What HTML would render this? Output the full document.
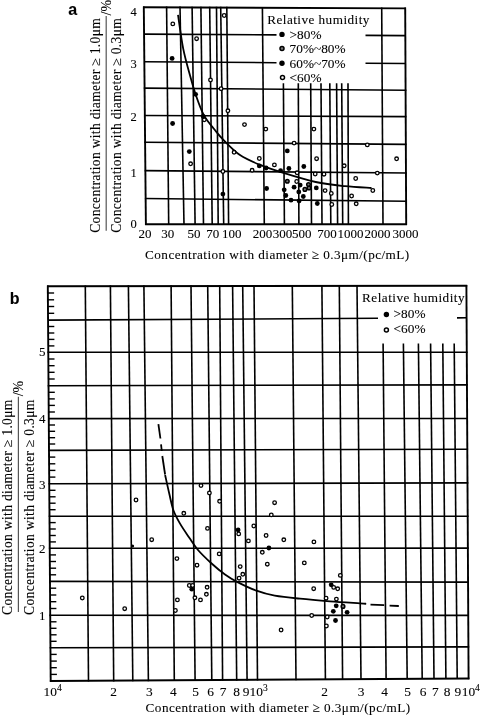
<!DOCTYPE html>
<html><head><meta charset="utf-8"><style>
html,body{margin:0;padding:0;background:#fff;}
body{width:482px;height:715px;overflow:hidden;}
svg{display:block;filter:grayscale(1) blur(0.3px);}
text{font-family:"Liberation Serif", serif;fill:#000;stroke:#000;stroke-width:0.1px;}
</style></head><body>
<svg width="482" height="715" viewBox="0 0 482 715">
<g stroke="#000" stroke-linecap="butt">
<line x1="143.0" y1="7.3" x2="406.0" y2="8.4" stroke-width="1.9" />
<line x1="144.1" y1="34.1" x2="276.5" y2="34.9" stroke-width="1.6" />
<line x1="365.5" y1="35.4" x2="405.3" y2="35.6" stroke-width="1.6" />
<line x1="144.3" y1="61.8" x2="276.5" y2="62.7" stroke-width="1.6" />
<line x1="365.5" y1="63.2" x2="405.5" y2="63.5" stroke-width="1.6" />
<line x1="143.8" y1="88.1" x2="406.4" y2="90.3" stroke-width="1.6" />
<line x1="144.0" y1="115.5" x2="406.5" y2="116.6" stroke-width="1.6" />
<line x1="144.3" y1="142.2" x2="406.6" y2="144.4" stroke-width="1.6" />
<line x1="144.6" y1="170.6" x2="406.8" y2="173.0" stroke-width="1.6" />
<line x1="144.9" y1="198.5" x2="406.9" y2="201.3" stroke-width="1.6" />
<line x1="145.1" y1="224.2" x2="407.0" y2="224.3" stroke-width="1.9" />
<line x1="143.8" y1="6.5" x2="145.9" y2="225.0" stroke-width="1.9" />
<line x1="166.6" y1="6.6" x2="168.7" y2="225.0" stroke-width="1.6" />
<line x1="180.0" y1="6.6" x2="184.0" y2="225.0" stroke-width="1.6" />
<line x1="192.1" y1="6.7" x2="195.1" y2="225.0" stroke-width="1.6" />
<line x1="200.9" y1="6.7" x2="203.5" y2="225.0" stroke-width="1.6" />
<line x1="209.7" y1="6.8" x2="212.2" y2="225.0" stroke-width="1.6" />
<line x1="216.5" y1="6.8" x2="218.2" y2="225.0" stroke-width="1.6" />
<line x1="220.7" y1="6.8" x2="223.7" y2="225.0" stroke-width="1.6" />
<line x1="226.8" y1="6.8" x2="228.6" y2="225.0" stroke-width="1.6" />
<line x1="262.4" y1="7.0" x2="264.3" y2="225.0" stroke-width="1.6" />
<line x1="283.4" y1="83.3" x2="284.4" y2="224.3" stroke-width="1.6" />
<line x1="298.3" y1="83.3" x2="298.9" y2="224.3" stroke-width="1.6" />
<line x1="310.7" y1="83.3" x2="311.5" y2="224.3" stroke-width="1.6" />
<line x1="321.0" y1="83.3" x2="322.0" y2="224.3" stroke-width="1.6" />
<line x1="329.8" y1="83.3" x2="330.8" y2="224.3" stroke-width="1.6" />
<line x1="336.6" y1="83.3" x2="337.6" y2="224.3" stroke-width="1.6" />
<line x1="341.7" y1="83.3" x2="342.7" y2="224.3" stroke-width="1.6" />
<line x1="348.0" y1="83.3" x2="348.4" y2="224.3" stroke-width="1.6" />
<line x1="381.7" y1="7.5" x2="383.0" y2="225.1" stroke-width="1.6" />
<line x1="405.2" y1="7.6" x2="406.2" y2="225.1" stroke-width="1.9" />
<path d="M178.0,14.9 C178.9,20.5 181.2,38.6 183.2,48.6 C185.2,58.6 187.8,67.4 189.9,75.0 C192.0,82.6 193.3,87.7 195.6,94.3 C197.9,100.9 200.5,108.8 203.7,114.8 C206.9,120.8 211.6,125.8 214.9,130.0 C218.2,134.2 219.3,135.8 223.4,139.9 C227.5,144.0 233.6,150.7 239.6,154.8 C245.6,158.9 252.1,161.6 259.5,164.7 C266.9,167.8 274.8,170.3 284.2,173.2 C293.6,176.1 305.6,179.8 315.7,182.0 C325.8,184.2 335.7,185.2 345.0,186.2 C354.3,187.2 367.1,187.7 371.5,188.0" fill="none" stroke="#000" stroke-width="1.8"/>
<circle cx="172.8" cy="23.9" r="1.8" fill="#fff" stroke="#000" stroke-width="1.3"/>
<circle cx="172.1" cy="58.4" r="2.4" fill="#000" stroke="none"/>
<circle cx="196.6" cy="38.7" r="1.8" fill="#fff" stroke="#000" stroke-width="1.3"/>
<circle cx="210.5" cy="80.0" r="1.8" fill="#fff" stroke="#000" stroke-width="1.3"/>
<circle cx="224.2" cy="15.5" r="1.8" fill="#fff" stroke="#000" stroke-width="1.3"/>
<circle cx="221.1" cy="88.7" r="1.8" fill="#fff" stroke="#000" stroke-width="1.3"/>
<circle cx="227.9" cy="110.8" r="1.8" fill="#fff" stroke="#000" stroke-width="1.3"/>
<circle cx="195.6" cy="94.3" r="2.4" fill="#000" stroke="none"/>
<circle cx="203.2" cy="116.4" r="2.4" fill="#000" stroke="none"/>
<circle cx="204.3" cy="119.8" r="1.8" fill="#fff" stroke="#000" stroke-width="1.3"/>
<circle cx="172.6" cy="123.5" r="2.4" fill="#000" stroke="none"/>
<circle cx="244.5" cy="124.6" r="1.8" fill="#fff" stroke="#000" stroke-width="1.3"/>
<circle cx="189.3" cy="151.6" r="2.4" fill="#000" stroke="none"/>
<circle cx="190.6" cy="163.8" r="1.8" fill="#fff" stroke="#000" stroke-width="1.3"/>
<circle cx="234.1" cy="152.3" r="1.8" fill="#fff" stroke="#000" stroke-width="1.3"/>
<circle cx="259.3" cy="158.5" r="1.8" fill="#fff" stroke="#000" stroke-width="1.3"/>
<circle cx="259.3" cy="165.9" r="2.4" fill="#000" stroke="none"/>
<circle cx="252.1" cy="170.3" r="1.8" fill="#fff" stroke="#000" stroke-width="1.3"/>
<circle cx="222.9" cy="171.5" r="1.8" fill="#fff" stroke="#000" stroke-width="1.3"/>
<circle cx="222.9" cy="194.1" r="2.4" fill="#000" stroke="none"/>
<circle cx="265.8" cy="129.1" r="1.8" fill="#fff" stroke="#000" stroke-width="1.3"/>
<circle cx="313.9" cy="129.1" r="1.8" fill="#fff" stroke="#000" stroke-width="1.3"/>
<circle cx="294.1" cy="143.1" r="1.8" fill="#fff" stroke="#000" stroke-width="1.3"/>
<circle cx="287.3" cy="150.9" r="2.4" fill="#000" stroke="none"/>
<circle cx="316.6" cy="158.7" r="1.8" fill="#fff" stroke="#000" stroke-width="1.3"/>
<circle cx="274.4" cy="164.9" r="1.8" fill="#fff" stroke="#000" stroke-width="1.3"/>
<circle cx="303.8" cy="166.5" r="2.4" fill="#000" stroke="none"/>
<circle cx="288.9" cy="168.5" r="2.4" fill="#000" stroke="none"/>
<circle cx="266.1" cy="168.0" r="2.4" fill="#000" stroke="none"/>
<circle cx="280.6" cy="170.6" r="2.4" fill="#000" stroke="none"/>
<circle cx="297.1" cy="172.8" r="1.8" fill="#fff" stroke="#000" stroke-width="1.3"/>
<circle cx="315.2" cy="174.0" r="1.8" fill="#fff" stroke="#000" stroke-width="1.3"/>
<circle cx="324.0" cy="174.2" r="1.8" fill="#fff" stroke="#000" stroke-width="1.3"/>
<circle cx="266.6" cy="188.5" r="2.4" fill="#000" stroke="none"/>
<circle cx="284.2" cy="189.8" r="2.4" fill="#000" stroke="none"/>
<circle cx="285.8" cy="195.5" r="2.4" fill="#000" stroke="none"/>
<circle cx="291.0" cy="200.2" r="2.4" fill="#000" stroke="none"/>
<circle cx="294.1" cy="187.2" r="2.4" fill="#000" stroke="none"/>
<circle cx="287.3" cy="181.3" r="1.8" fill="#777" stroke="#000" stroke-width="1.5"/>
<circle cx="296.7" cy="181.5" r="1.8" fill="#fff" stroke="#000" stroke-width="1.3"/>
<circle cx="298.8" cy="191.9" r="2.4" fill="#000" stroke="none"/>
<circle cx="299.1" cy="200.9" r="2.4" fill="#000" stroke="none"/>
<circle cx="308.5" cy="184.6" r="1.8" fill="#777" stroke="#000" stroke-width="1.5"/>
<circle cx="300.2" cy="185.1" r="2.4" fill="#000" stroke="none"/>
<circle cx="303.3" cy="196.5" r="2.4" fill="#000" stroke="none"/>
<circle cx="304.9" cy="189.4" r="1.8" fill="#777" stroke="#000" stroke-width="1.5"/>
<circle cx="309.0" cy="188.0" r="1.8" fill="#777" stroke="#000" stroke-width="1.5"/>
<circle cx="316.3" cy="187.9" r="2.4" fill="#000" stroke="none"/>
<circle cx="325.1" cy="190.6" r="1.8" fill="#fff" stroke="#000" stroke-width="1.3"/>
<circle cx="331.3" cy="193.4" r="1.8" fill="#fff" stroke="#000" stroke-width="1.3"/>
<circle cx="317.3" cy="203.5" r="2.4" fill="#000" stroke="none"/>
<circle cx="331.8" cy="204.5" r="1.8" fill="#fff" stroke="#000" stroke-width="1.3"/>
<circle cx="367.3" cy="144.9" r="1.8" fill="#fff" stroke="#000" stroke-width="1.3"/>
<circle cx="396.6" cy="158.8" r="1.8" fill="#fff" stroke="#000" stroke-width="1.3"/>
<circle cx="344.2" cy="165.8" r="1.8" fill="#fff" stroke="#000" stroke-width="1.3"/>
<circle cx="377.3" cy="173.1" r="1.8" fill="#fff" stroke="#000" stroke-width="1.3"/>
<circle cx="355.7" cy="178.5" r="1.8" fill="#fff" stroke="#000" stroke-width="1.3"/>
<circle cx="372.8" cy="190.5" r="1.8" fill="#fff" stroke="#000" stroke-width="1.3"/>
<circle cx="351.6" cy="196.0" r="1.8" fill="#fff" stroke="#000" stroke-width="1.3"/>
<circle cx="356.2" cy="203.8" r="1.8" fill="#fff" stroke="#000" stroke-width="1.3"/>
<circle cx="282.0" cy="34.4" r="2.7" fill="#000" stroke="none"/>
<circle cx="282.0" cy="48.5" r="2.0" fill="#777" stroke="#000" stroke-width="1.5"/>
<circle cx="282.0" cy="63.3" r="2.7" fill="#000" stroke="none"/>
<circle cx="282.5" cy="77.5" r="2.0" fill="#fff" stroke="#000" stroke-width="1.5"/>
<line x1="47.0" y1="286.2" x2="467.2" y2="285.7" stroke-width="1.9" />
<line x1="48.1" y1="320.1" x2="378.0" y2="318.3" stroke-width="1.6" />
<line x1="457.0" y1="317.9" x2="466.6" y2="317.8" stroke-width="1.6" />
<line x1="47.5" y1="352.3" x2="467.6" y2="352.2" stroke-width="1.6" />
<line x1="47.7" y1="385.7" x2="467.8" y2="384.9" stroke-width="1.6" />
<line x1="48.0" y1="418.6" x2="467.9" y2="418.5" stroke-width="1.6" />
<line x1="48.2" y1="450.4" x2="468.1" y2="449.2" stroke-width="1.6" />
<line x1="48.5" y1="483.8" x2="468.3" y2="482.9" stroke-width="1.6" />
<line x1="48.7" y1="516.2" x2="468.5" y2="516.2" stroke-width="1.6" />
<line x1="48.9" y1="548.3" x2="468.7" y2="548.1" stroke-width="1.6" />
<line x1="49.2" y1="581.4" x2="468.9" y2="582.1" stroke-width="1.6" />
<line x1="49.4" y1="615.3" x2="469.0" y2="615.4" stroke-width="1.6" />
<line x1="49.7" y1="647.8" x2="469.2" y2="646.9" stroke-width="1.6" />
<line x1="49.9" y1="681.0" x2="469.4" y2="678.5" stroke-width="1.9" />
<line x1="47.8" y1="285.4" x2="50.7" y2="681.8" stroke-width="1.9" />
<line x1="85.3" y1="285.4" x2="88.5" y2="681.6" stroke-width="1.6" />
<line x1="110.4" y1="285.3" x2="113.7" y2="681.4" stroke-width="1.6" />
<line x1="128.4" y1="285.3" x2="132.8" y2="681.3" stroke-width="1.6" />
<line x1="143.9" y1="285.3" x2="148.4" y2="681.2" stroke-width="1.6" />
<line x1="171.1" y1="285.3" x2="174.3" y2="681.1" stroke-width="1.6" />
<line x1="191.0" y1="285.2" x2="195.1" y2="680.9" stroke-width="1.6" />
<line x1="207.7" y1="285.2" x2="211.8" y2="680.8" stroke-width="1.6" />
<line x1="219.7" y1="285.2" x2="222.6" y2="680.8" stroke-width="1.6" />
<line x1="232.6" y1="285.2" x2="236.7" y2="680.7" stroke-width="1.6" />
<line x1="242.7" y1="285.2" x2="247.1" y2="680.6" stroke-width="1.6" />
<line x1="254.0" y1="285.2" x2="257.5" y2="680.6" stroke-width="1.6" />
<line x1="292.3" y1="285.1" x2="296.0" y2="680.3" stroke-width="1.6" />
<line x1="321.9" y1="285.1" x2="325.4" y2="680.1" stroke-width="1.6" />
<line x1="339.3" y1="285.1" x2="342.6" y2="680.0" stroke-width="1.6" />
<line x1="357.0" y1="285.0" x2="361.0" y2="679.9" stroke-width="1.6" />
<line x1="383.1" y1="343.4" x2="386.1" y2="679.0" stroke-width="1.6" />
<line x1="403.4" y1="343.4" x2="407.2" y2="678.9" stroke-width="1.6" />
<line x1="418.4" y1="343.4" x2="422.2" y2="678.8" stroke-width="1.6" />
<line x1="430.6" y1="343.4" x2="434.0" y2="678.7" stroke-width="1.6" />
<line x1="442.8" y1="343.4" x2="445.9" y2="678.6" stroke-width="1.6" />
<line x1="454.2" y1="343.4" x2="457.2" y2="678.6" stroke-width="1.6" />
<line x1="466.4" y1="284.9" x2="468.6" y2="679.3" stroke-width="1.9" />
<line x1="50.7" y1="674.4" x2="56.9" y2="674.4" stroke-width="1.4" />
<line x1="50.6" y1="667.7" x2="56.8" y2="667.7" stroke-width="1.4" />
<line x1="50.6" y1="661.1" x2="56.8" y2="661.1" stroke-width="1.4" />
<line x1="50.5" y1="654.4" x2="56.7" y2="654.4" stroke-width="1.4" />
<line x1="50.4" y1="641.3" x2="56.6" y2="641.3" stroke-width="1.4" />
<line x1="50.4" y1="634.8" x2="56.6" y2="634.8" stroke-width="1.4" />
<line x1="50.3" y1="628.3" x2="56.5" y2="628.3" stroke-width="1.4" />
<line x1="50.3" y1="621.8" x2="56.5" y2="621.8" stroke-width="1.4" />
<line x1="50.2" y1="608.5" x2="56.4" y2="608.5" stroke-width="1.4" />
<line x1="50.1" y1="601.7" x2="56.3" y2="601.7" stroke-width="1.4" />
<line x1="50.1" y1="595.0" x2="56.3" y2="595.0" stroke-width="1.4" />
<line x1="50.0" y1="588.2" x2="56.2" y2="588.2" stroke-width="1.4" />
<line x1="49.9" y1="574.8" x2="56.1" y2="574.8" stroke-width="1.4" />
<line x1="49.9" y1="568.2" x2="56.1" y2="568.2" stroke-width="1.4" />
<line x1="49.8" y1="561.5" x2="56.0" y2="561.5" stroke-width="1.4" />
<line x1="49.8" y1="554.9" x2="56.0" y2="554.9" stroke-width="1.4" />
<line x1="49.7" y1="541.9" x2="55.9" y2="541.9" stroke-width="1.4" />
<line x1="49.6" y1="535.5" x2="55.8" y2="535.5" stroke-width="1.4" />
<line x1="49.6" y1="529.0" x2="55.8" y2="529.0" stroke-width="1.4" />
<line x1="49.5" y1="522.6" x2="55.7" y2="522.6" stroke-width="1.4" />
<line x1="49.4" y1="509.7" x2="55.6" y2="509.7" stroke-width="1.4" />
<line x1="49.4" y1="503.2" x2="55.6" y2="503.2" stroke-width="1.4" />
<line x1="49.4" y1="496.8" x2="55.6" y2="496.8" stroke-width="1.4" />
<line x1="49.3" y1="490.3" x2="55.5" y2="490.3" stroke-width="1.4" />
<line x1="49.2" y1="477.1" x2="55.4" y2="477.1" stroke-width="1.4" />
<line x1="49.2" y1="470.4" x2="55.4" y2="470.4" stroke-width="1.4" />
<line x1="49.1" y1="463.8" x2="55.3" y2="463.8" stroke-width="1.4" />
<line x1="49.1" y1="457.1" x2="55.3" y2="457.1" stroke-width="1.4" />
<line x1="49.0" y1="444.0" x2="55.2" y2="444.0" stroke-width="1.4" />
<line x1="48.9" y1="437.7" x2="55.1" y2="437.7" stroke-width="1.4" />
<line x1="48.9" y1="431.3" x2="55.1" y2="431.3" stroke-width="1.4" />
<line x1="48.8" y1="425.0" x2="55.0" y2="425.0" stroke-width="1.4" />
<line x1="48.7" y1="412.0" x2="54.9" y2="412.0" stroke-width="1.4" />
<line x1="48.7" y1="405.4" x2="54.9" y2="405.4" stroke-width="1.4" />
<line x1="48.6" y1="398.9" x2="54.8" y2="398.9" stroke-width="1.4" />
<line x1="48.6" y1="392.3" x2="54.8" y2="392.3" stroke-width="1.4" />
<line x1="48.5" y1="379.0" x2="54.7" y2="379.0" stroke-width="1.4" />
<line x1="48.4" y1="372.3" x2="54.6" y2="372.3" stroke-width="1.4" />
<line x1="48.4" y1="365.7" x2="54.6" y2="365.7" stroke-width="1.4" />
<line x1="48.3" y1="359.0" x2="54.5" y2="359.0" stroke-width="1.4" />
<line x1="48.2" y1="345.9" x2="54.4" y2="345.9" stroke-width="1.4" />
<line x1="48.2" y1="339.4" x2="54.4" y2="339.4" stroke-width="1.4" />
<line x1="48.1" y1="333.0" x2="54.3" y2="333.0" stroke-width="1.4" />
<line x1="48.1" y1="326.5" x2="54.3" y2="326.5" stroke-width="1.4" />
<line x1="48.0" y1="313.3" x2="54.2" y2="313.3" stroke-width="1.4" />
<line x1="48.0" y1="306.5" x2="54.2" y2="306.5" stroke-width="1.4" />
<line x1="47.9" y1="299.8" x2="54.1" y2="299.8" stroke-width="1.4" />
<line x1="47.9" y1="293.0" x2="54.1" y2="293.0" stroke-width="1.4" />
<path d="M165.1,475.0 C165.8,478.1 167.9,487.9 169.3,493.8 C170.7,499.7 171.7,505.5 173.5,510.5 C175.3,515.5 177.6,519.4 180.2,523.9 C182.8,528.4 186.3,533.4 189.3,537.8 C192.3,542.1 194.3,545.7 198.0,550.0 C201.7,554.3 207.1,559.4 211.6,563.5 C216.1,567.6 220.8,571.5 225.0,574.5 C229.2,577.5 231.3,578.9 236.6,581.6 C241.8,584.3 250.1,588.4 256.5,590.7 C262.9,593.1 267.6,594.4 274.8,595.7 C282.1,597.0 290.8,597.8 300.0,598.7 C309.2,599.6 320.0,600.5 330.0,601.3 C340.0,602.1 353.9,602.9 359.9,603.3 C365.9,603.7 365.1,603.7 366.2,603.8" fill="none" stroke="#000" stroke-width="1.8"/>
<line x1="158.4" y1="424.2" x2="160.4" y2="438.5" stroke-width="1.8"/>
<line x1="161.0" y1="444.3" x2="161.8" y2="451.0" stroke-width="1.8"/>
<line x1="162.3" y1="456.0" x2="165.1" y2="474.5" stroke-width="1.8"/>
<line x1="370.5" y1="604.6" x2="384.2" y2="605.2" stroke-width="1.8"/>
<line x1="389.6" y1="605.7" x2="398.8" y2="606.0" stroke-width="1.8"/>
<circle cx="136.0" cy="500.0" r="1.8" fill="#fff" stroke="#000" stroke-width="1.3"/>
<circle cx="183.8" cy="513.3" r="1.8" fill="#fff" stroke="#000" stroke-width="1.3"/>
<circle cx="151.7" cy="539.7" r="1.8" fill="#fff" stroke="#000" stroke-width="1.3"/>
<circle cx="132.6" cy="545.9" r="1.5" fill="#000" stroke="none"/>
<circle cx="82.3" cy="598.0" r="1.8" fill="#fff" stroke="#000" stroke-width="1.3"/>
<circle cx="124.7" cy="608.7" r="1.8" fill="#fff" stroke="#000" stroke-width="1.3"/>
<circle cx="201.0" cy="485.6" r="1.8" fill="#fff" stroke="#000" stroke-width="1.3"/>
<circle cx="209.4" cy="493.0" r="1.8" fill="#fff" stroke="#000" stroke-width="1.3"/>
<circle cx="219.6" cy="501.3" r="1.8" fill="#fff" stroke="#000" stroke-width="1.3"/>
<circle cx="207.5" cy="528.4" r="1.8" fill="#fff" stroke="#000" stroke-width="1.3"/>
<circle cx="238.1" cy="529.9" r="2.4" fill="#000" stroke="none"/>
<circle cx="238.7" cy="533.9" r="1.8" fill="#fff" stroke="#000" stroke-width="1.3"/>
<circle cx="253.8" cy="526.0" r="1.8" fill="#fff" stroke="#000" stroke-width="1.3"/>
<circle cx="248.4" cy="540.9" r="1.8" fill="#fff" stroke="#000" stroke-width="1.3"/>
<circle cx="266.1" cy="535.5" r="1.8" fill="#fff" stroke="#000" stroke-width="1.3"/>
<circle cx="283.8" cy="539.8" r="1.8" fill="#fff" stroke="#000" stroke-width="1.3"/>
<circle cx="271.3" cy="514.9" r="1.8" fill="#fff" stroke="#000" stroke-width="1.3"/>
<circle cx="274.6" cy="502.7" r="1.8" fill="#fff" stroke="#000" stroke-width="1.3"/>
<circle cx="268.9" cy="548.0" r="2.4" fill="#000" stroke="none"/>
<circle cx="262.3" cy="552.3" r="1.8" fill="#fff" stroke="#000" stroke-width="1.3"/>
<circle cx="267.3" cy="564.2" r="1.8" fill="#fff" stroke="#000" stroke-width="1.3"/>
<circle cx="240.2" cy="566.6" r="1.8" fill="#fff" stroke="#000" stroke-width="1.3"/>
<circle cx="242.8" cy="574.3" r="1.8" fill="#fff" stroke="#000" stroke-width="1.3"/>
<circle cx="239.1" cy="578.2" r="1.8" fill="#fff" stroke="#000" stroke-width="1.3"/>
<circle cx="176.9" cy="558.6" r="1.8" fill="#fff" stroke="#000" stroke-width="1.3"/>
<circle cx="197.0" cy="565.2" r="1.8" fill="#fff" stroke="#000" stroke-width="1.3"/>
<circle cx="219.2" cy="553.9" r="1.8" fill="#fff" stroke="#000" stroke-width="1.3"/>
<circle cx="189.3" cy="585.5" r="1.8" fill="#fff" stroke="#000" stroke-width="1.3"/>
<circle cx="192.6" cy="585.5" r="1.8" fill="#fff" stroke="#000" stroke-width="1.3"/>
<circle cx="191.8" cy="589.2" r="2.4" fill="#000" stroke="none"/>
<circle cx="207.1" cy="587.3" r="1.8" fill="#fff" stroke="#000" stroke-width="1.3"/>
<circle cx="206.4" cy="594.3" r="1.8" fill="#fff" stroke="#000" stroke-width="1.3"/>
<circle cx="194.9" cy="597.8" r="1.8" fill="#fff" stroke="#000" stroke-width="1.3"/>
<circle cx="200.5" cy="599.9" r="1.8" fill="#fff" stroke="#000" stroke-width="1.3"/>
<circle cx="177.4" cy="599.9" r="1.8" fill="#fff" stroke="#000" stroke-width="1.3"/>
<circle cx="175.4" cy="610.5" r="1.8" fill="#fff" stroke="#000" stroke-width="1.3"/>
<circle cx="304.3" cy="562.9" r="1.8" fill="#fff" stroke="#000" stroke-width="1.3"/>
<circle cx="313.9" cy="541.9" r="1.8" fill="#fff" stroke="#000" stroke-width="1.3"/>
<circle cx="340.3" cy="575.4" r="1.8" fill="#fff" stroke="#000" stroke-width="1.3"/>
<circle cx="313.7" cy="588.7" r="1.8" fill="#fff" stroke="#000" stroke-width="1.3"/>
<circle cx="331.2" cy="584.8" r="2.4" fill="#000" stroke="none"/>
<circle cx="333.7" cy="587.4" r="1.8" fill="#fff" stroke="#000" stroke-width="1.3"/>
<circle cx="337.7" cy="588.8" r="1.8" fill="#fff" stroke="#000" stroke-width="1.3"/>
<circle cx="326.1" cy="598.2" r="1.8" fill="#fff" stroke="#000" stroke-width="1.3"/>
<circle cx="336.4" cy="599.1" r="1.8" fill="#fff" stroke="#000" stroke-width="1.3"/>
<circle cx="336.2" cy="605.8" r="2.4" fill="#000" stroke="none"/>
<circle cx="343.0" cy="606.4" r="1.8" fill="#777" stroke="#000" stroke-width="1.5"/>
<circle cx="333.3" cy="611.3" r="2.4" fill="#000" stroke="none"/>
<circle cx="347.1" cy="612.3" r="2.4" fill="#000" stroke="none"/>
<circle cx="311.7" cy="615.5" r="1.8" fill="#fff" stroke="#000" stroke-width="1.3"/>
<circle cx="327.2" cy="617.0" r="1.8" fill="#fff" stroke="#000" stroke-width="1.3"/>
<circle cx="335.5" cy="620.5" r="2.4" fill="#000" stroke="none"/>
<circle cx="326.4" cy="626.0" r="1.8" fill="#fff" stroke="#000" stroke-width="1.3"/>
<circle cx="281.1" cy="630.0" r="1.8" fill="#fff" stroke="#000" stroke-width="1.3"/>
<circle cx="386.4" cy="314.5" r="2.7" fill="#000" stroke="none"/>
<circle cx="386.4" cy="329.9" r="2.0" fill="#fff" stroke="#000" stroke-width="1.5"/>
<line x1="106.2" y1="16.1" x2="106.2" y2="230.7" stroke="#555" stroke-width="1.2"/>
<line x1="18.4" y1="396.8" x2="18.4" y2="612" stroke="#555" stroke-width="1.2"/>
</g>
<g>
<text x="136.8" y="16.1" font-size="12.5" text-anchor="end" >4</text>
<text x="136.8" y="68.2" font-size="12.5" text-anchor="end" >3</text>
<text x="136.8" y="120.8" font-size="12.5" text-anchor="end" >2</text>
<text x="136.8" y="177.0" font-size="12.5" text-anchor="end" >1</text>
<text x="136.8" y="228.4" font-size="12.5" text-anchor="end" >0</text>
<text x="145" y="238.2" font-size="13" text-anchor="middle" >20</text>
<text x="167.7" y="238.2" font-size="13" text-anchor="middle" >30</text>
<text x="194.1" y="238.2" font-size="13" text-anchor="middle" >50</text>
<text x="212.7" y="238.2" font-size="13" text-anchor="middle" >70</text>
<text x="231.7" y="238.2" font-size="13" text-anchor="middle" >100</text>
<text x="262.4" y="238.2" font-size="13" text-anchor="middle" >200</text>
<text x="282.5" y="238.2" font-size="13" text-anchor="middle" >300</text>
<text x="301.7" y="238.2" font-size="13" text-anchor="middle" >500</text>
<text x="326.9" y="238.2" font-size="13" text-anchor="middle" >700</text>
<text x="350.4" y="238.2" font-size="13" text-anchor="middle" >1000</text>
<text x="377.4" y="238.2" font-size="13" text-anchor="middle" >2000</text>
<text x="405.4" y="238.2" font-size="13" text-anchor="middle" >3000</text>
<text x="145.1" y="259.3" font-size="13.2" text-anchor="start" textLength="264.1" lengthAdjust="spacing">Concentration with diameter ≥ 0.3μm/(pc/mL)</text>
<text x="267.2" y="23.7" font-size="13.2" text-anchor="start" textLength="102.2" lengthAdjust="spacing">Relative humidity</text>
<text x="289.6" y="38.7" font-size="13.3" text-anchor="start" >&gt;80%</text>
<text x="289.6" y="52.7" font-size="13.3" text-anchor="start" >70%~80%</text>
<text x="289.6" y="67.5" font-size="13.3" text-anchor="start" >60%~70%</text>
<text x="289.6" y="81.9" font-size="13.3" text-anchor="start" >&lt;60%</text>
<text transform="translate(99.8,232.8) rotate(-90)" font-size="13.6" textLength="214.6" lengthAdjust="spacing">Concentration with diameter ≥ 1.0μm</text>
<text transform="translate(121.0,232.8) rotate(-90)" font-size="13.6" textLength="214.6" lengthAdjust="spacing">Concentration with diameter ≥ 0.3μm</text>
<text transform="translate(110.8,15.5) rotate(-90)" font-size="14">/%</text>
<text x="45.4" y="356.0" font-size="13" text-anchor="end" >5</text>
<text x="45.4" y="423.0" font-size="13" text-anchor="end" >4</text>
<text x="45.4" y="488.5" font-size="13" text-anchor="end" >3</text>
<text x="45.4" y="552.6" font-size="13" text-anchor="end" >2</text>
<text x="45.4" y="619.7" font-size="13" text-anchor="end" >1</text>
<text x="113.6" y="696.2" font-size="13.4" text-anchor="middle" >2</text>
<text x="149.4" y="696.2" font-size="13.4" text-anchor="middle" >3</text>
<text x="173.3" y="696.2" font-size="13.4" text-anchor="middle" >4</text>
<text x="195.5" y="696.2" font-size="13.4" text-anchor="middle" >5</text>
<text x="210.7" y="696.2" font-size="13.4" text-anchor="middle" >6</text>
<text x="223.2" y="696.2" font-size="13.4" text-anchor="middle" >7</text>
<text x="236.7" y="696.2" font-size="13.4" text-anchor="middle" >8</text>
<text x="246.0" y="696.2" font-size="13.4" text-anchor="middle" >9</text>
<text x="324.7" y="696.2" font-size="13.4" text-anchor="middle" >2</text>
<text x="361.2" y="696.2" font-size="13.4" text-anchor="middle" >3</text>
<text x="384.5" y="696.2" font-size="13.4" text-anchor="middle" >4</text>
<text x="407.7" y="696.2" font-size="13.4" text-anchor="middle" >5</text>
<text x="423.0" y="696.2" font-size="13.4" text-anchor="middle" >6</text>
<text x="435.4" y="696.2" font-size="13.4" text-anchor="middle" >7</text>
<text x="447.2" y="696.2" font-size="13.4" text-anchor="middle" >8</text>
<text x="457.8" y="696.2" font-size="13.4" text-anchor="middle" >9</text>
<text x="43.6" y="696.0" font-size="13.4" text-anchor="start" >10<tspan font-size="9.5" dy="-5.3">4</tspan></text>
<text x="249.6" y="696.0" font-size="13.4" text-anchor="start" >10<tspan font-size="9.5" dy="-5.3">3</tspan></text>
<text x="461.7" y="696.0" font-size="13.4" text-anchor="start" >10<tspan font-size="9.5" dy="-5.3">4</tspan></text>
<text x="145.6" y="712.0" font-size="13.2" text-anchor="start" textLength="264.6" lengthAdjust="spacing">Concentration with diameter ≥ 0.3μm/(pc/mL)</text>
<text x="362.1" y="301.6" font-size="13.2" text-anchor="start" textLength="102.4" lengthAdjust="spacing">Relative humidity</text>
<text x="393.6" y="317.8" font-size="13.3" text-anchor="start" >&gt;80%</text>
<text x="393.6" y="332.6" font-size="13.3" text-anchor="start" >&lt;60%</text>
<text transform="translate(11.6,614.9) rotate(-90)" font-size="13.6" textLength="215.3" lengthAdjust="spacing">Concentration with diameter ≥ 1.0μm</text>
<text transform="translate(33.5,614.9) rotate(-90)" font-size="13.6" textLength="215.3" lengthAdjust="spacing">Concentration with diameter ≥ 0.3μm</text>
<text transform="translate(23.0,396.3) rotate(-90)" font-size="14">/%</text>
<text x="68.3" y="14.8" style="font-family:Liberation Sans,sans-serif;font-weight:bold;font-size:16px">a</text>
<text x="9.8" y="303.5" style="font-family:Liberation Sans,sans-serif;font-weight:bold;font-size:16px">b</text>
</g>
</svg>
</body></html>
